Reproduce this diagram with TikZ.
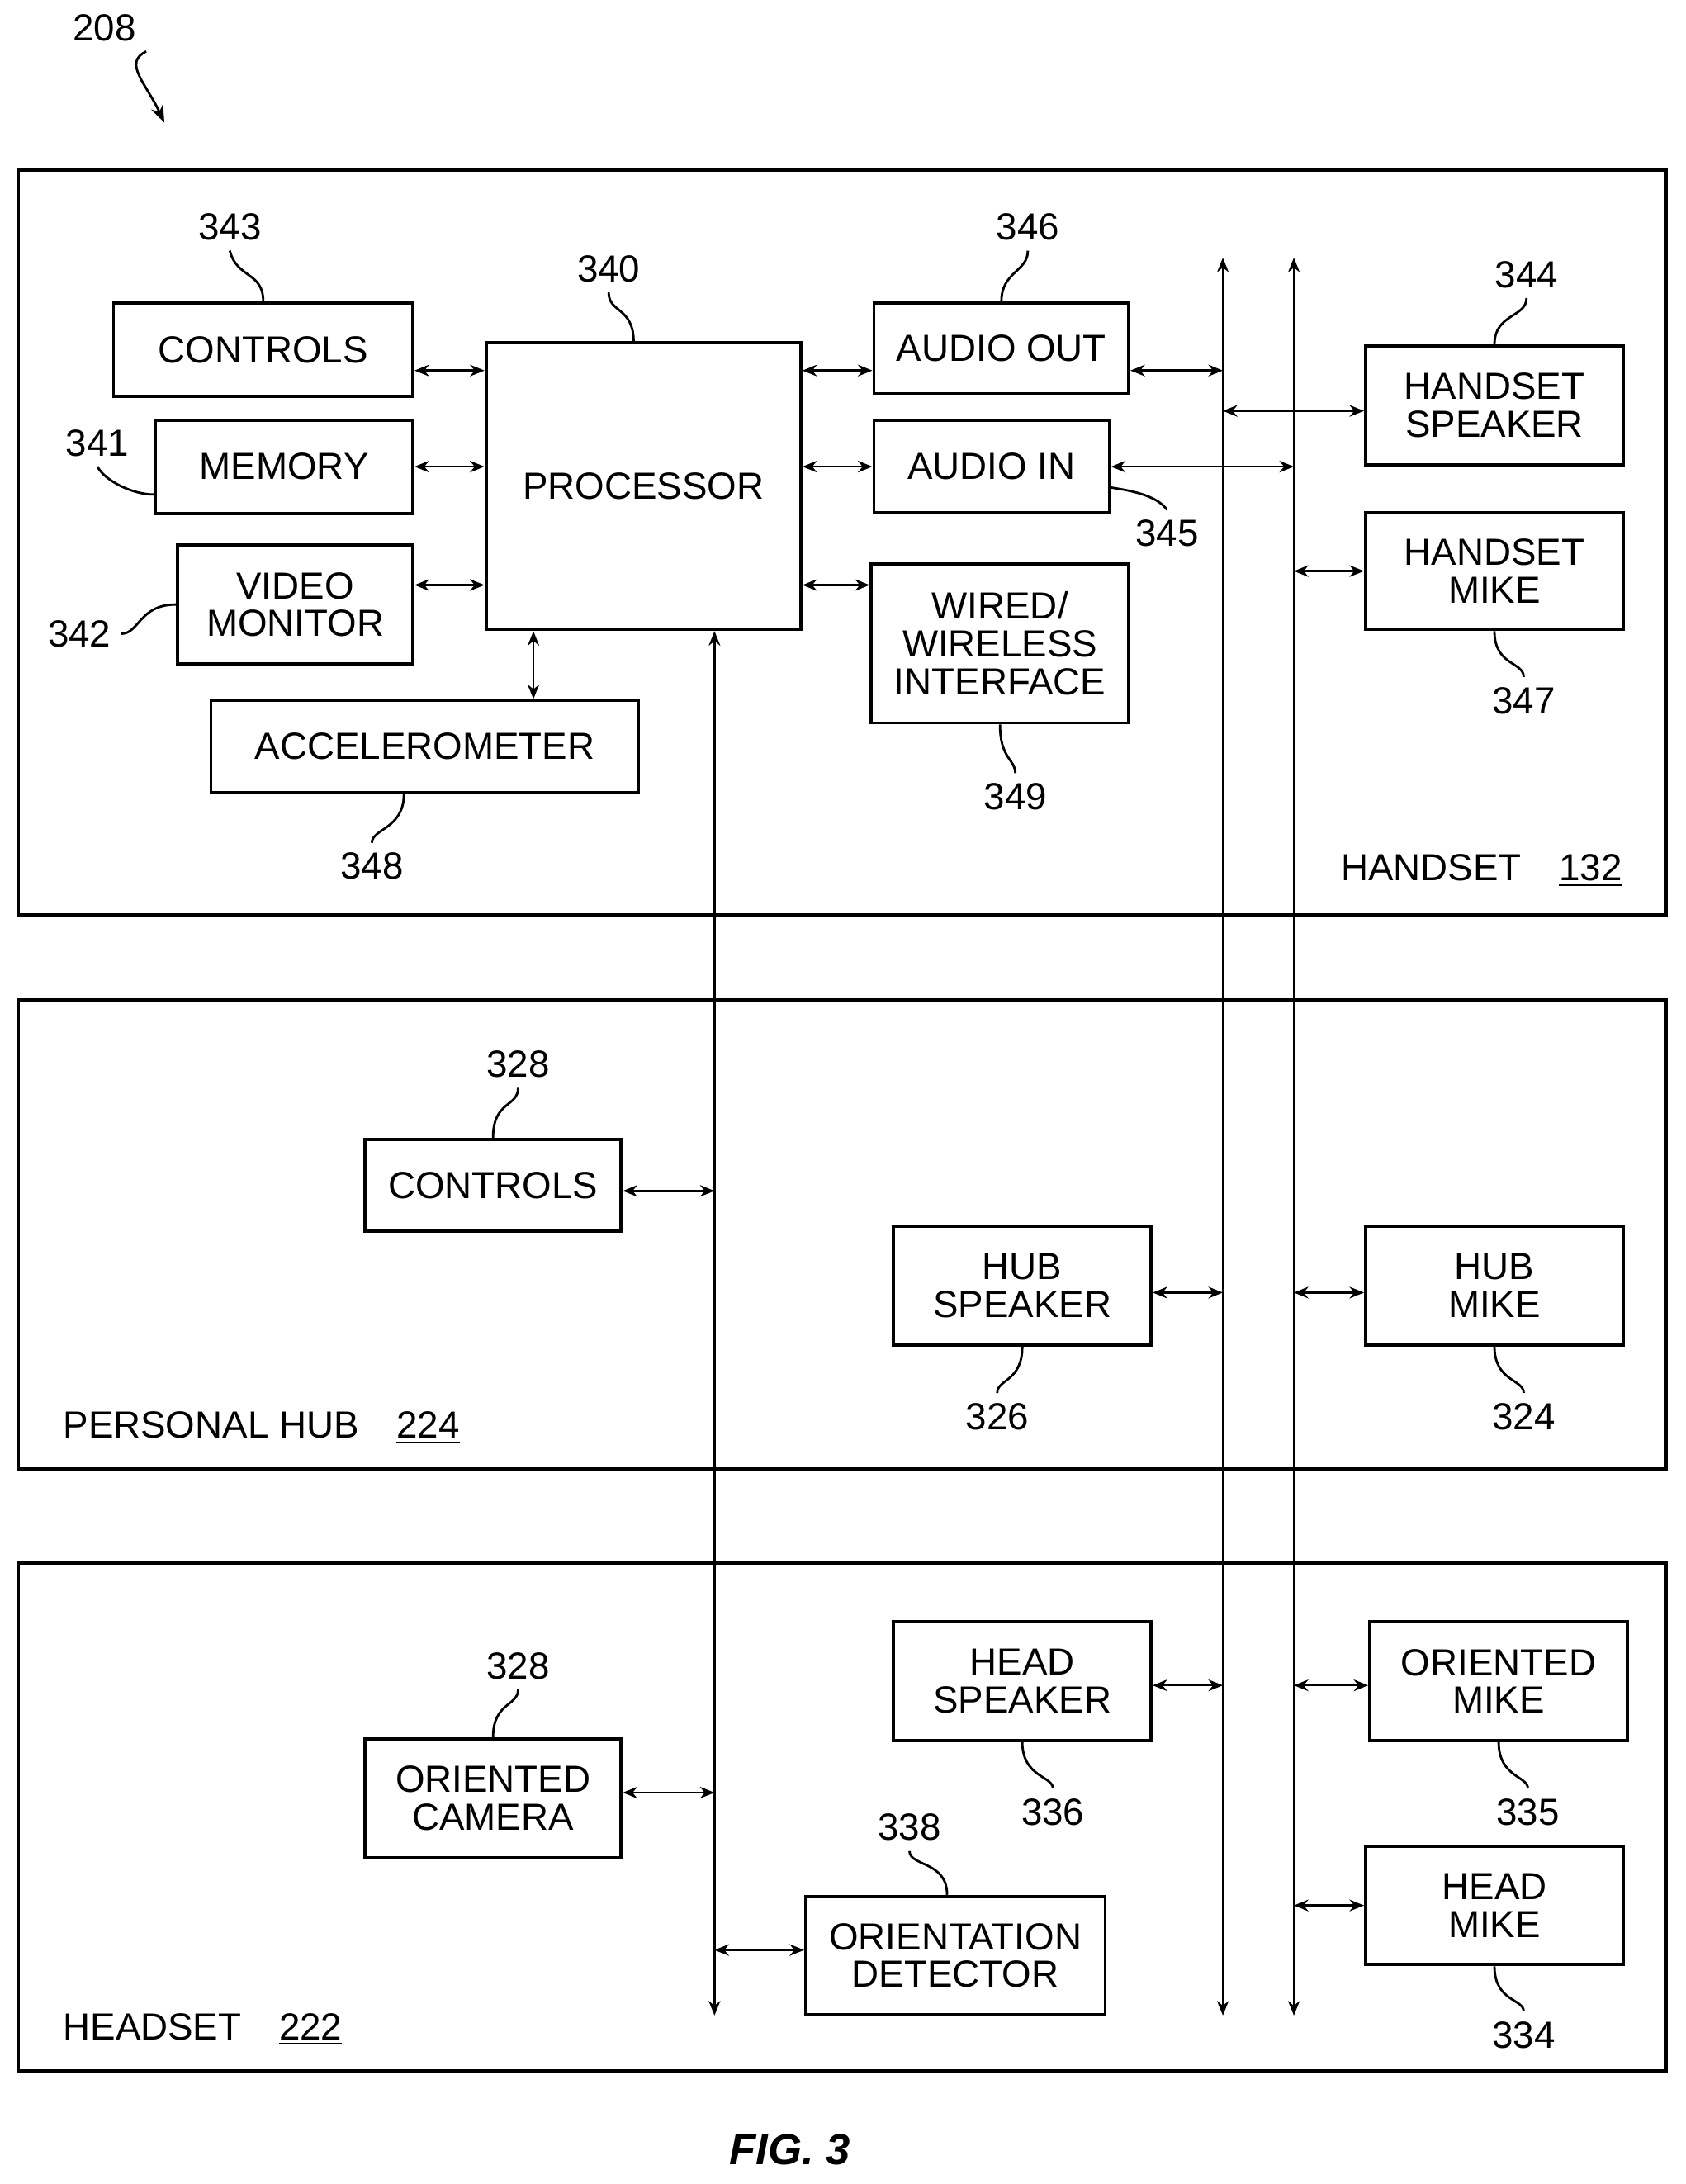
\documentclass[tikz,border=0pt]{standalone}
\usepackage{fontspec}
\setmainfont{Liberation Sans}
\usetikzlibrary{arrows.meta,positioning}
\newcommand\pu{0.01686cm}
\begin{document}
\begin{tikzpicture}[x=0.01686cm,y=-0.01686cm,
        blk/.style={rectangle, draw, line width=1.1pt, align=center, inner sep=0pt, font=\fontsize{13}{13}\selectfont},
        frame/.style={draw, line width=1.3pt},
        lbl/.style={font=\fontsize{13}{13}\selectfont},
        lead/.style={line width=0.8pt},
        link/.style={line width=0.7pt, {Stealth[length=5pt,width=4pt]}-{Stealth[length=5pt,width=4pt]}},
        ]
        \useasboundingbox (0,0) rectangle (1210,1568);

        % outer boxes
        \draw[frame] (13,122) rectangle (1196,657);
        \draw[frame] (13,718) rectangle (1196,1055);
        \draw[frame] (13,1122) rectangle (1196,1487);
        \node[lbl, anchor=east] (hs) at (1172,625) {HANDSET\quad\underline{132}};
        \node[lbl, anchor=west] (ph) at (38,1025) {PERSONAL HUB\quad\underline{224}};
        \node[lbl, anchor=west] (hd) at (38,1457) {HEADSET\quad\underline{222}};
        \node[font=\fontsize{15}{15}\selectfont\bfseries\itshape] (fig) at (567,1543) {FIG. 3};
        \node[lbl] (n208) at (75,20) {208};
        \draw[lead, -{Stealth[length=6pt]}] (n208.south east) .. controls (88,45) and (105,60) .. (118,88);

        % handset
        \node[blk, minimum width=215*\pu, minimum height=67*\pu] (ctrl) at (189,251) {CONTROLS};
        \node[blk, minimum width=185*\pu, minimum height=67*\pu] (mem) at (204,335) {MEMORY};
        \node[blk, minimum width=169*\pu, minimum height=85*\pu] (video) at (212,434) {VIDEO\\MONITOR};
        \node[blk, minimum width=307*\pu, minimum height=66*\pu] (accel) at (305,536) {ACCELEROMETER};
        \node[blk, minimum width=226*\pu, minimum height=206*\pu] (proc) at (462,349) {PROCESSOR};
        \node[blk, minimum width=183*\pu, minimum height=65*\pu] (aout) at (719,250) {AUDIO OUT};
        \node[blk, minimum width=169*\pu, minimum height=66*\pu] (ain) at (712,335) {AUDIO IN};
        \node[blk, minimum width=185*\pu, minimum height=114*\pu] (wired) at (718,462) {WIRED/\\WIRELESS\\INTERFACE};
        \node[blk, minimum width=185*\pu, minimum height=85*\pu] (hspk) at (1073,291) {HANDSET\\SPEAKER};
        \node[blk, minimum width=185*\pu, minimum height=84*\pu] (hmike) at (1073,410) {HANDSET\\MIKE};

        % personal hub
        \node[blk, minimum width=184*\pu, minimum height=66*\pu] (hctrl) at (354,851) {CONTROLS};
        \node[blk, minimum width=185*\pu, minimum height=85*\pu] (hubspk) at (734,923) {HUB\\SPEAKER};
        \node[blk, minimum width=185*\pu, minimum height=85*\pu] (hubmike) at (1073,923) {HUB\\MIKE};

        % headset
        \node[blk, minimum width=185*\pu, minimum height=85*\pu] (headspk) at (734,1207) {HEAD\\SPEAKER};
        \node[blk, minimum width=185*\pu, minimum height=85*\pu] (omike) at (1076,1207) {ORIENTED\\MIKE};
        \node[blk, minimum width=184*\pu, minimum height=85*\pu] (ocam) at (354,1291) {ORIENTED\\CAMERA};
        \node[blk, minimum width=215*\pu, minimum height=85*\pu] (odet) at (686,1404) {ORIENTATION\\DETECTOR};
        \node[blk, minimum width=185*\pu, minimum height=85*\pu] (headmike) at (1073,1368) {HEAD\\MIKE};

        % buses
        \coordinate (busA) at (513,1447);
        \coordinate (busBt) at (878,185);
        \coordinate (busBb) at (878,1447);
        \coordinate (busCt) at (929,185);
        \coordinate (busCb) at (929,1447);
        \draw[link] (proc.south -| busA) -- (busA);
        \draw[link] (busBt) -- (busBb);
        \draw[link] (busCt) -- (busCb);

        % links
        \draw[link] (ctrl.east |- 0,266) -- (proc.west |- 0,266);
        \draw[link] (mem.east) -- (proc.west |- mem.east);
        \draw[link] (video.east |- 0,420) -- (proc.west |- 0,420);
        \draw[link] (accel.north -| 383,0) -- (proc.south -| 383,0);
        \draw[link] (proc.east |- 0,266) -- (aout.west |- 0,266);
        \draw[link] (proc.east |- ain.west) -- (ain.west);
        \draw[link] (proc.east |- 0,420) -- (wired.west |- 0,420);
        \draw[link] (aout.east |- 0,266) -- (busBt |- 0,266);
        \draw[link] (ain.east) -- (busCt |- ain.east);
        \draw[link] (busBt |- 0,295) -- (hspk.west |- 0,295);
        \draw[link] (busCt |- hmike.west) -- (hmike.west);
        \draw[link] (hctrl.east |- 0,855) -- (busA |- 0,855);
        \draw[link] (hubspk.east |- 0,928) -- (busBt |- 0,928);
        \draw[link] (busCt |- 0,928) -- (hubmike.west |- 0,928);
        \draw[link] (headspk.east |- 0,1210) -- (busBt |- 0,1210);
        \draw[link] (busCt |- 0,1210) -- (omike.west |- 0,1210);
        \draw[link] (ocam.east |- 0,1287) -- (busA |- 0,1287);
        \draw[link] (busA |- 0,1400) -- (odet.west |- 0,1400);
        \draw[link] (busCt |- headmike.west) -- (headmike.west);

        % reference numerals
        \node[lbl] (r343) at (165,163) {343};
        \draw[lead] (r343.south) .. controls (170,200) and (189,195) .. (ctrl.north);
        \node[lbl] (r340) at (437,193) {340};
        \draw[lead] (r340.south) .. controls (437,225) and (455,220) .. (455,246);
        \node[lbl] (r346) at (738,163) {346};
        \draw[lead] (r346.south) .. controls (738,195) and (719,195) .. (aout.north);
        \node[lbl] (r344) at (1096,197) {344};
        \draw[lead] (r344.south) .. controls (1096,228) and (1073,225) .. (hspk.north);
        \node[lbl] (r341) at (70,318) {341};
        \draw[lead] (r341.south) .. controls (75,345) and (95,355) .. (mem.west |- 0,355);
        \node[lbl] (r342) at (57,455) {342};
        \draw[lead] (r342.east) .. controls (100,455) and (100,434) .. (video.west);
        \node[lbl] (r345) at (838,383) {345};
        \draw[lead] (r345.north) .. controls (830,355) and (810,352) .. (ain.east |- 0,350);
        \node[lbl] (r347) at (1094,503) {347};
        \draw[lead] (r347.north) .. controls (1094,475) and (1073,478) .. (hmike.south);
        \node[lbl] (r349) at (729,572) {349};
        \draw[lead] (r349.north) .. controls (729,545) and (718,545) .. (wired.south);
        \node[lbl] (r348) at (267,622) {348};
        \draw[lead] (r348.north) .. controls (267,595) and (290,595) .. (accel.south -| 290,0);
        \node[lbl] (r328a) at (372,764) {328};
        \draw[lead] (r328a.south) .. controls (372,795) and (354,790) .. (hctrl.north);
        \node[lbl] (r326) at (716,1017) {326};
        \draw[lead] (r326.north) .. controls (716,990) and (734,992) .. (hubspk.south);
        \node[lbl] (r324) at (1094,1017) {324};
        \draw[lead] (r324.north) .. controls (1094,990) and (1073,992) .. (hubmike.south);
        \node[lbl] (r328b) at (372,1196) {328};
        \draw[lead] (r328b.south) .. controls (372,1225) and (354,1222) .. (ocam.north);
        \node[lbl] (r336) at (756,1301) {336};
        \draw[lead] (r336.north) .. controls (756,1275) and (734,1276) .. (headspk.south);
        \node[lbl] (r338) at (653,1312) {338};
        \draw[lead] (r338.south) .. controls (653,1340) and (680,1336) .. (odet.north -| 680,0);
        \node[lbl] (r335) at (1097,1301) {335};
        \draw[lead] (r335.north) .. controls (1097,1275) and (1076,1276) .. (omike.south);
        \node[lbl] (r334) at (1094,1461) {334};
        \draw[lead] (r334.north) .. controls (1094,1435) and (1073,1437) .. (headmike.south);
\end{tikzpicture}
\end{document}
